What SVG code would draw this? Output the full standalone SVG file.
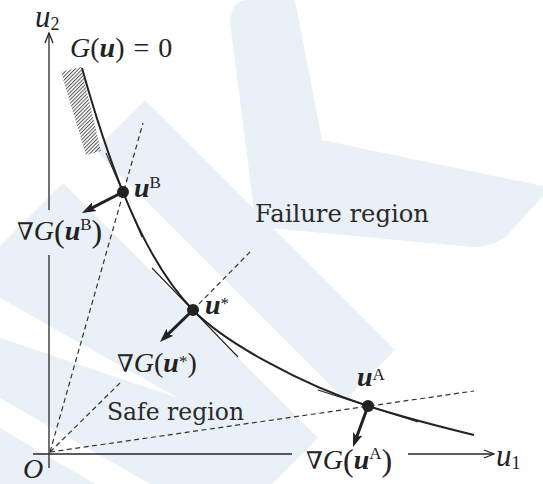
<svg xmlns="http://www.w3.org/2000/svg" width="543" height="484" viewBox="0 0 543 484">
<defs>
<style>
.wm{fill:#eaf0f7;stroke:none}
.wh{fill:#ffffff;stroke:none}
.axis{stroke:#262626;stroke-width:1.3;fill:none}
.curve{stroke:#222;stroke-width:2;fill:none}
.tan{stroke:#222;stroke-width:1.1;fill:none}
.dash{stroke:#333;stroke-width:1.2;stroke-dasharray:5 3.5;fill:none}
.grad{stroke:#222;stroke-width:3;fill:none}
.dot{fill:#222}
text{font-family:'Liberation Serif','Times New Roman',serif}
.m{font-size:28px;fill:#222}
.i{font-style:italic}
.b{font-style:italic;font-weight:bold}
.sup{font-size:17px;font-style:normal;font-weight:normal}
.nab{font-family:'DejaVu Serif',serif;font-size:24px;font-style:normal}
.lbl{font-family:'DejaVu Serif','Liberation Serif',serif;font-size:24px;fill:#2a2a2a}
</style>
<marker id="ah" markerUnits="userSpaceOnUse" viewBox="0 0 15 11" markerWidth="15" markerHeight="11" refX="7" refY="5.5" orient="auto">
<path d="M0,0.5 L14,5.5 L0,10.5 L3,5.5 Z" fill="#222"/>
</marker>
<marker id="ax" markerUnits="userSpaceOnUse" viewBox="0 0 12 10" markerWidth="12" markerHeight="10" refX="11" refY="5" orient="auto">
<path d="M1,1 L11,5 L1,9" fill="none" stroke="#222" stroke-width="1.3"/>
</marker>
<pattern id="hatch" patternUnits="userSpaceOnUse" width="2.6" height="2.6" patternTransform="rotate(45)">
<line x1="0.5" y1="0" x2="0.5" y2="2.6" stroke="#555" stroke-width="1"/>
</pattern>
</defs>

<g id="watermark">
<path class="wm" d="M230,22 Q231,0 248,0 L295,0 L322,140 L543,186 L543,196 L512,230 Q500,246 472,247 L270,228 L254,210 Z"/>
<path class="wm" d="M145,100 L395,350 L345,400 L95,150 Z"/>
<path class="wm" d="M63,183 L318,438 L272,484 L0,484 L0,246 Z"/>
<path class="wh" d="M0,298 L178,398 L0,338 Z"/>
<path class="wh" d="M0,398 L150,484 L95,484 L0,428 Z"/>
</g>

<g id="axes">
<line class="axis" x1="49" y1="468" x2="49" y2="255"/>
<line class="axis" x1="49" y1="210" x2="49" y2="33" marker-end="url(#ax)"/>
<line class="axis" x1="33" y1="454" x2="292" y2="454"/>
<line class="axis" x1="408" y1="454" x2="494" y2="454" marker-end="url(#ax)"/>
</g>

<g id="hatched-strip">
<path d="M61,72 L81,67 L101,151 L86,155 Z" fill="url(#hatch)"/>
</g>

<g id="connectors">
<path class="dash" d="M50,452 L143,123"/>
<path class="dash" d="M50,452 L120,383"/>
<path class="dash" d="M193,310 L252,250"/>
<path class="dash" d="M50,452 L474,391"/>
<path class="tan" d="M106,153 L142,237"/>
<path class="tan" d="M152,268 L238,357"/>
<path class="tan" d="M318,390 L418,422"/>
<path class="curve" d="M82,68 C91.4,101.7 108.2,154.9 123,192 C141.6,238.4 165.2,281.3 193,310 C224.3,342.3 302,385 368,406 C401,416.5 439,426.5 474,435"/>
<line class="grad" x1="123" y1="192" x2="88.2" y2="209.8" marker-end="url(#ah)"/>
<line class="grad" x1="193" y1="310" x2="165" y2="337.1" marker-end="url(#ah)"/>
<line class="grad" x1="368" y1="406" x2="355.4" y2="440.4" marker-end="url(#ah)"/>
</g>

<g id="node-uB">
<circle class="dot" cx="123" cy="192" r="6"/>
<text class="m" x="134" y="197"><tspan class="b">u</tspan><tspan class="sup" dy="-9">B</tspan></text>
</g>
<g id="node-ustar">
<circle class="dot" cx="193" cy="310" r="6"/>
<text class="m" x="205" y="314"><tspan class="b">u</tspan><tspan class="sup" dy="-5">*</tspan></text>
</g>
<g id="node-uA">
<circle class="dot" cx="368" cy="406" r="6"/>
<text class="m" x="357" y="386"><tspan class="b">u</tspan><tspan class="sup" dy="-6">A</tspan></text>
</g>

<g id="label-u2">
<text class="m" x="35" y="27"><tspan class="i" font-size="31">u</tspan><tspan font-size="18" dy="3">2</tspan></text>
</g>
<g id="label-u1">
<text class="m" x="496" y="466"><tspan class="i" font-size="31">u</tspan><tspan font-size="18" dy="3">1</tspan></text>
</g>
<g id="label-O">
<text class="m i" x="23" y="478">O</text>
</g>
<g id="label-G">
<text class="m" x="70" y="57"><tspan class="i">G</tspan>(<tspan class="b">u</tspan>)<tspan dx="9">=</tspan><tspan dx="9">0</tspan></text>
</g>
<g id="label-gradB">
<text class="m" x="17" y="240"><tspan class="nab">∇</tspan><tspan class="i">G</tspan><tspan font-size="32" dy="2">(</tspan><tspan class="b" dy="-2">u</tspan><tspan class="sup" dy="-10">B</tspan><tspan font-size="32" dy="12">)</tspan></text>
</g>
<g id="label-gradstar">
<text class="m" x="117" y="372"><tspan class="nab">∇</tspan><tspan class="i">G</tspan>(<tspan class="b">u</tspan><tspan class="sup" dy="-5">*</tspan><tspan dy="5">)</tspan></text>
</g>
<g id="label-gradA">
<text class="m" x="306" y="469"><tspan class="nab">∇</tspan><tspan class="i">G</tspan><tspan font-size="32" dy="2">(</tspan><tspan class="b" dy="-2">u</tspan><tspan class="sup" dy="-10">A</tspan><tspan font-size="32" dy="12">)</tspan></text>
</g>
<g id="label-regions">
<text class="lbl" x="255" y="222" textLength="174" lengthAdjust="spacingAndGlyphs">Failure region</text>
<text class="lbl" x="107" y="420" textLength="137" lengthAdjust="spacingAndGlyphs">Safe region</text>
</g>
</svg>
